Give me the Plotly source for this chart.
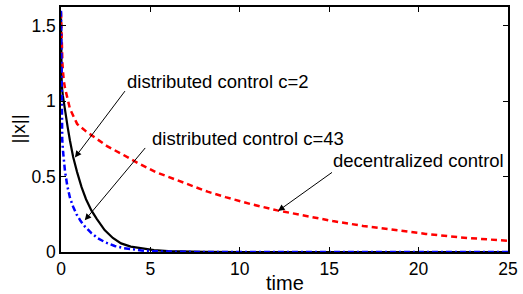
import plotly.graph_objects as go

# decentralized control
t_dec = [0, 0.03, 0.08, 0.15, 0.22, 0.5, 0.9, 1.4, 1.9, 2.6, 3.4, 4.3, 5.3, 6.3, 7.3, 8.2, 9.2,
         10.6, 12.1, 13.6, 15.2, 16.9, 18.6, 20.4, 22.3, 23.7, 25]
y_dec = [1.59, 1.42, 1.25, 1.14, 1.09, 0.95, 0.85, 0.80, 0.76, 0.70, 0.65, 0.59, 0.53, 0.485, 0.44,
         0.40, 0.364, 0.318, 0.276, 0.24, 0.205, 0.173, 0.145, 0.12, 0.097, 0.085, 0.074]

# distributed control c=2
t_c2 = [0, 0.02, 0.04, 0.1, 0.22, 0.37, 0.5, 0.68, 0.9, 1.15, 1.4, 1.7, 2.0, 2.44, 2.9, 3.36, 3.9,
        4.47, 5.2, 6.0, 7.0, 8, 10, 15, 20, 25]
y_c2 = [1.55, 1.25, 1.11, 1.04, 0.93, 0.83, 0.74, 0.63, 0.53, 0.43, 0.35, 0.276, 0.22, 0.145, 0.093,
        0.057, 0.036, 0.024, 0.012, 0.006, 0.003, 0.001, 0, 0, 0, 0]

# distributed control c=43
t_c43 = [0, 0.02, 0.04, 0.07, 0.12, 0.22, 0.35, 0.5, 0.68, 0.87, 1.1, 1.33, 1.7, 2.07, 2.5, 3.0,
         3.5, 3.9, 4.5, 5.2, 6, 7, 8, 10, 15, 20, 25]
y_c43 = [1.6, 1.2, 0.9, 0.74, 0.66, 0.54, 0.44, 0.36, 0.30, 0.25, 0.205, 0.17, 0.125, 0.09, 0.063,
         0.04, 0.026, 0.018, 0.01, 0.005, 0.002, 0.001, 0, 0, 0, 0, 0]

x_ticks = [0, 5, 10, 15, 20, 25]
y_ticks = [0, 0.5, 1, 1.5]
y_tick_labels = ["0", "0.5", "1", "1.5"]

labels = ["distributed control c=2", "distributed control c=43", "decentralized control"]
label_pos = [(3.70, 1.13), (5.10, 0.75), (15.24, 0.605)]
arrow_tail = [(3.64, 1.077), (4.78, 0.70), (15.24, 0.535)]
arrow_head = [(0.78, 0.627), (1.33, 0.21), (12.14, 0.272)]

FONT = "Liberation Sans, Arial, Helvetica, sans-serif"

fig = go.Figure()
fig.add_trace(go.Scatter(x=t_c2, y=y_c2, mode="lines", line=dict(color="black", width=2.2)))
fig.add_trace(go.Scatter(x=t_dec, y=y_dec, mode="lines",
                         line=dict(color="#ff0000", width=2.5, dash="6px,4px")))
fig.add_trace(go.Scatter(x=t_c43, y=y_c43, mode="lines",
                         line=dict(color="#0000ff", width=2.5, dash="6px,3px,2px,3px")))

ann = []
for txt, (lx, ly) in zip(labels, label_pos):
    ann.append(dict(x=lx, y=ly, xref="x", yref="y", text=txt, showarrow=False,
                    xanchor="left", yanchor="middle", xshift=-2,
                    font=dict(size=18.5, color="black", family=FONT)))
for (tx, ty), (hx, hy) in zip(arrow_tail, arrow_head):
    ann.append(dict(x=hx, y=hy, ax=tx, ay=ty, xref="x", yref="y", axref="x", ayref="y",
                    text="", showarrow=True, arrowhead=2, arrowsize=1.3, arrowwidth=1,
                    arrowcolor="black"))
ann.append(dict(x=0.5, y=0, xref="paper", yref="paper", text="time", showarrow=False,
                xanchor="center", yanchor="top", yshift=-18,
                font=dict(size=20, color="black", family=FONT)))
ann.append(dict(x=0, y=0.5, xref="paper", yref="paper", text="||x||", showarrow=False,
                xanchor="center", yanchor="middle", xshift=-43, textangle=-90,
                font=dict(size=19, color="black", family=FONT)))

fig.update_layout(
    width=523, height=294,
    margin=dict(l=61, r=11, t=5, b=42),
    paper_bgcolor="white", plot_bgcolor="white",
    showlegend=False,
    font=dict(family=FONT, size=17, color="black"),
    annotations=ann,
)
fig.update_xaxes(range=[0, 25], tickvals=x_ticks, ticks="inside", ticklen=5, tickcolor="black",
                 showline=True, linecolor="black", linewidth=1.5, mirror="ticks",
                 showgrid=False, zeroline=False, tickfont=dict(size=17.5))
fig.update_yaxes(range=[0, 1.625], tickvals=y_ticks, ticktext=y_tick_labels, ticks="inside",
                 ticklen=5, tickcolor="black",
                 showline=True, linecolor="black", linewidth=1.5, mirror="ticks",
                 showgrid=False, zeroline=False, tickfont=dict(size=17.5))

fig.write_html("out.html", config={"displayModeBar": False},
               post_script="document.body.style.margin='0';document.body.style.overflow='hidden';")
